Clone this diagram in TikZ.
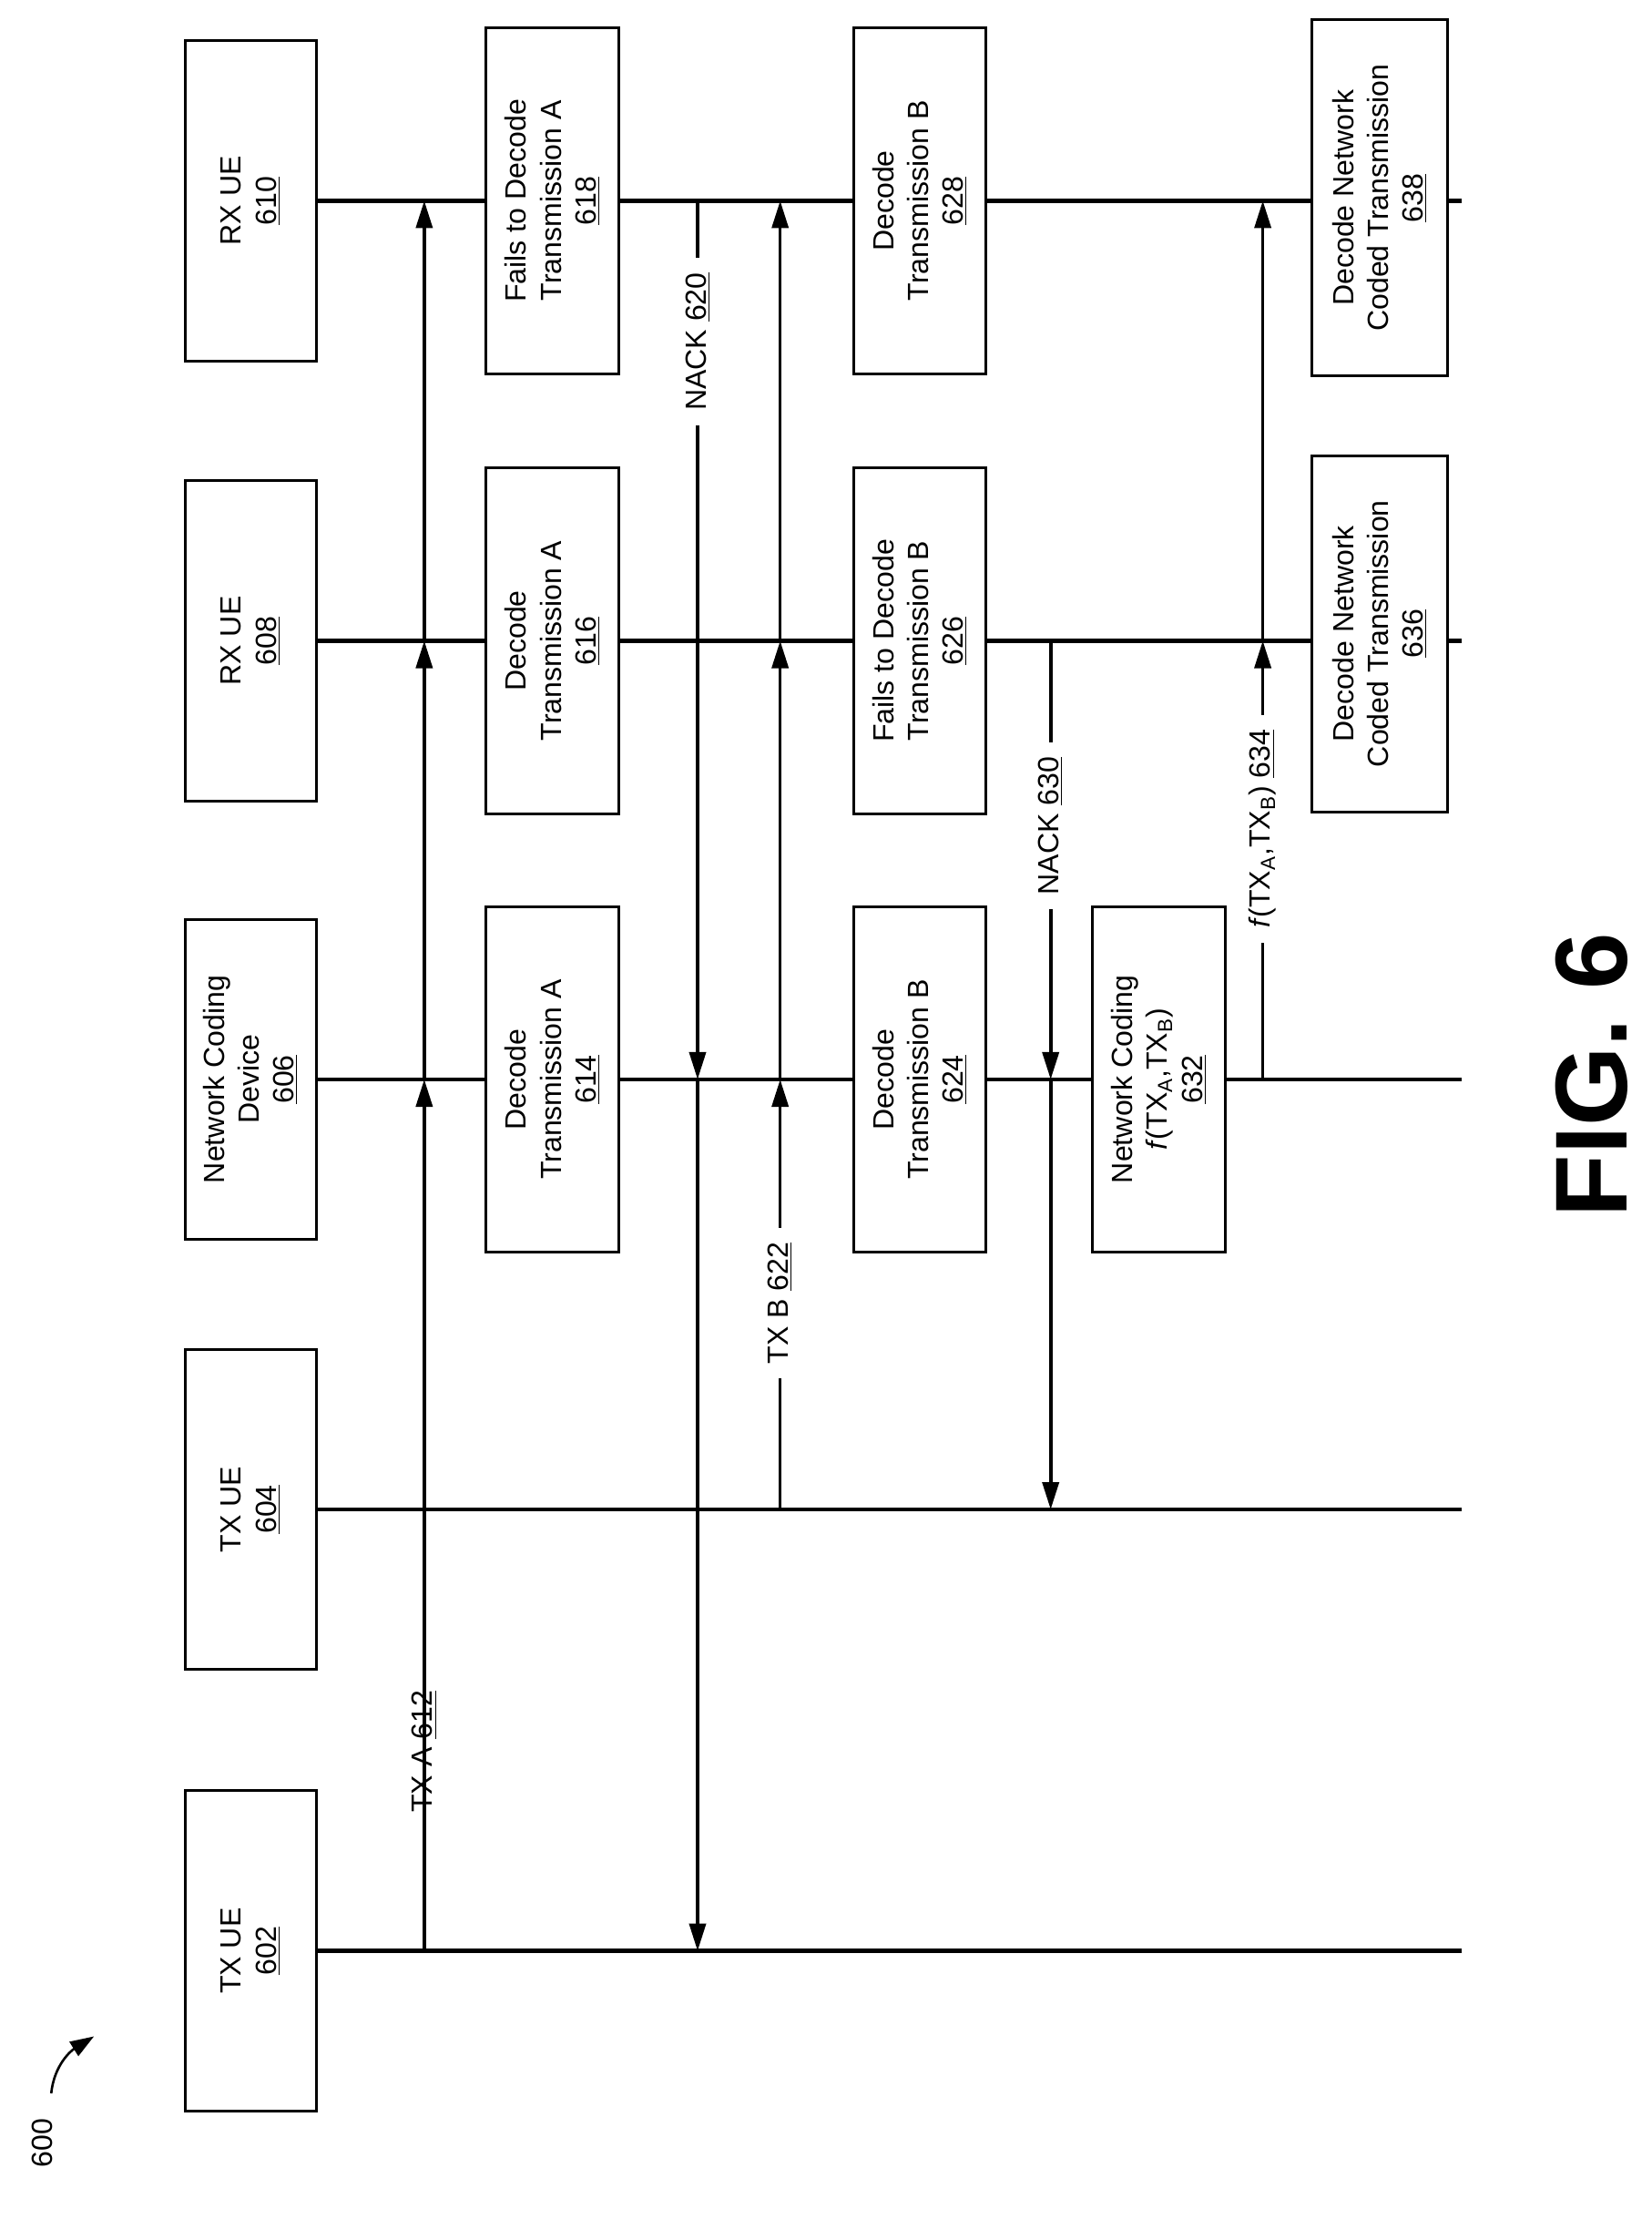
\documentclass[tikz,border=0pt]{standalone}
\usepackage{fontspec}
\setmainfont{Liberation Sans}
\usetikzlibrary{arrows.meta}
\begin{document}
\begin{tikzpicture}[x=0.78pt,y=-0.78pt,
  every node/.style={font=\fontsize{16}{19}\selectfont},
  life/.style={line width=2.2pt},
  msg/.style={line width=1.8pt},
  arr/.style={msg,-{Triangle[length=15pt,width=9pt]}},
  ent/.style={draw,line width=1.5pt,fill=white,rotate=90,minimum width=225*0.78pt,minimum height=92*0.78pt,align=center,inner sep=2pt},
  proc/.style={draw,line width=1.5pt,fill=white,rotate=90,minimum width=243*0.78pt,minimum height=93*0.78pt,align=center,inner sep=2pt},
  lab/.style={fill=white,rotate=90,inner xsep=8pt,inner ysep=1pt}]
\useasboundingbox (0,0) rectangle (1160,1573);
% entities
\node[ent] (e602) at (176,1370) {TX UE\\\underline{602}};
\node[ent] (e604) at (176,1060) {TX UE\\\underline{604}};
\node[ent] (e606) at (176,758) {Network Coding\\Device\\\underline{606}};
\node[ent] (e608) at (176,450) {RX UE\\\underline{608}};
\node[ent] (e610) at (176,141) {RX UE\\\underline{610}};
% lifeline ends
\coordinate (z602) at (1027,1370);
\coordinate (z604) at (1027,1060);
\coordinate (z606) at (1027,758);
\coordinate (z608) at (1027,450);
\coordinate (z610) at (1027,141);
\foreach \n in {602,604,606,608,610}{\draw[life] (e\n.south) -- (z\n);}
% points on lifelines
\foreach \xx/\m in {298/a,490/b,548/c,738/d,887/e}{
  \coordinate (\m602) at (\xx,1370);
  \coordinate (\m604) at (\xx,1060);
  \coordinate (\m606) at (\xx,758);
  \coordinate (\m608) at (\xx,450);
  \coordinate (\m610) at (\xx,141);}
% TX A 612
\draw[msg] (a602) -- (298,1230) node[lab] (l612) {TX A \underline{612}} -- (298,1180);
\draw[arr] (a602) -- (a606);
\draw[arr] (a606) -- (a608);
\draw[arr] (a608) -- (a610);
% NACK 620
\draw[arr] (b610) -- (b606);
\draw[arr] (b606) -- (b602);
\node[lab] (l620) at (490,240) {NACK \underline{620}};
% TX B 622
\draw[arr] (c604) -- (c606);
\draw[arr] (c606) -- (c608);
\draw[arr] (c608) -- (c610);
\node[lab] (l622) at (548,915) {TX B \underline{622}};
% NACK 630
\draw[arr] (d608) -- (d606);
\draw[arr] (d606) -- (d604);
\node[lab] (l630) at (738,580) {NACK \underline{630}};
% 634
\draw[arr] (e606) -- (e608);
\draw[arr] (e608) -- (e610);
\node[lab] (l634) at (887,582) {\textit{f}(TX\textsubscript{A},TX\textsubscript{B}) \underline{634}};
% process boxes
\node[proc] (p614) at (388,758) {Decode\\Transmission A\\\underline{614}};
\node[proc] (p616) at (388,450) {Decode\\Transmission A\\\underline{616}};
\node[proc] (p618) at (388,141) {Fails to Decode\\Transmission A\\\underline{618}};
\node[proc] (p624) at (646,758) {Decode\\Transmission B\\\underline{624}};
\node[proc] (p626) at (646,450) {Fails to Decode\\Transmission B\\\underline{626}};
\node[proc] (p628) at (646,141) {Decode\\Transmission B\\\underline{628}};
\node[proc] (p632) at (814,758) {Network Coding\\\textit{f}(TX\textsubscript{A},TX\textsubscript{B})\\\underline{632}};
\node[proc,minimum width=250*0.78pt,minimum height=95*0.78pt] (p636) at (969,445) {Decode Network\\Coded Transmission\\\underline{636}};
\node[proc,minimum width=250*0.78pt,minimum height=95*0.78pt] (p638) at (969,139) {Decode Network\\Coded Transmission\\\underline{638}};
% figure labels
\node[rotate=90,font=\bfseries\fontsize{56}{60}\selectfont] (fig) at (1118,755) {FIG. 6};
\node[rotate=90,font=\fontsize{16}{19}\selectfont] (n600) at (30,1505) {600};
\coordinate (t600) at (66,1430);
\draw[msg,line width=1.3pt,-{Triangle[length=13pt,width=9pt]}] (36,1470) .. controls (38,1450) and (50,1440) .. (t600);
\end{tikzpicture}
\end{document}
